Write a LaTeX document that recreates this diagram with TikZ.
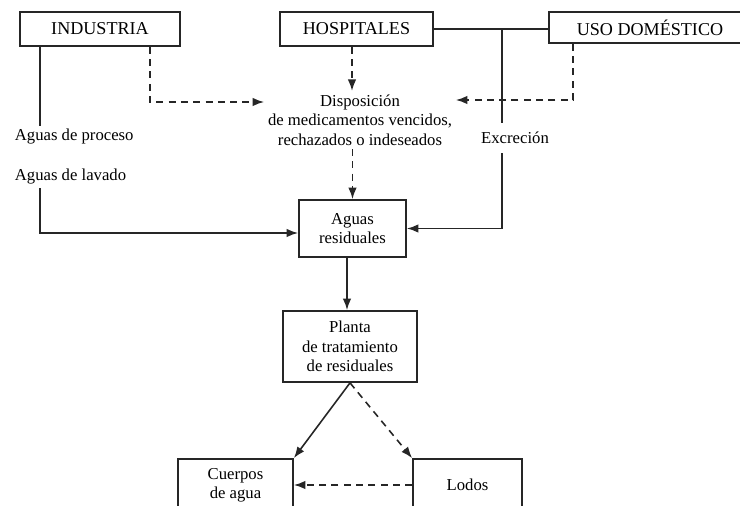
\documentclass[tikz,border=0pt]{standalone}
\usepackage{fontspec}
\setmainfont{Liberation Serif}
\usetikzlibrary{arrows.meta,calc}
\tikzset{
  caja/.style={draw=black!85,line width=1pt,inner sep=0pt,align=center},
  titulo/.style={font=\fontsize{10.3}{12}\selectfont},
  texto/.style={inner sep=2pt,align=center,font=\fontsize{9.5}{11}\selectfont},
  linea/.style={draw=black!85,line width=0.9pt},
  guion/.style={draw=black!85,line width=0.9pt,dash pattern=on 4pt off 3pt},
}
\begin{document}
\begin{tikzpicture}[x=0.02cm,y=-0.02cm,>={Latex[length=6.5pt,width=4.8pt]}]
		\useasboundingbox (0,0) rectangle (740,506);
		\clip (0,0) rectangle (740,506);

		\node[caja,titulo,minimum width=3.2cm,minimum height=0.68cm] (ind) at (100,29) {INDUSTRIA};
		\node[caja,titulo,minimum width=3.06cm,minimum height=0.68cm] (hosp) at (356.5,29) {HOSPITALES};
		\node[caja,titulo,minimum width=4.04cm,minimum height=0.62cm] (uso) at (650,27.5) {USO DOMÉSTICO};

		\node[texto,anchor=west] (proc) at (11,137) {Aguas de proceso};
		\node[texto,anchor=west] (lav) at (11,177) {Aguas de lavado};
		\node[texto] (disp) at (360,120) {Disposición\\de medicamentos vencidos,\\rechazados o indeseados};
		\node[texto,inner ysep=5pt] (exc) at (515,138) {Excreción};

		\node[caja,texto,inner sep=0pt,minimum width=2.14cm,minimum height=1.14cm] (aguas) at (352.5,228.5) {Aguas\\residuales};
		\node[caja,texto,inner sep=0pt,minimum width=2.68cm,minimum height=1.42cm] (planta) at (350,346.5) {Planta\\de tratamiento\\de residuales};
		\node[caja,texto,inner sep=0pt,minimum width=2.3cm,minimum height=1.04cm] (cuerpos) at (235.5,485) {Cuerpos\\de agua};
		\node[caja,texto,inner sep=0pt,minimum width=2.18cm,minimum height=1.04cm] (lodos) at (467.5,485) {Lodos};

		\coordinate (cA) at (40,0);
		\coordinate (cB) at (150,102);
		\coordinate (cD) at (352,0);
		\coordinate (cE) at (573,100);
		\coordinate (cF) at (502,0);
		\coordinate (cG) at (347,0);
		\coordinate (aguasL) at ($(aguas.west)+(0,4.5)$);

		\draw[linea] (ind.south -| cA) -- (proc.north -| cA);
		\draw[linea] (hosp.east) -- (hosp.east -| uso.west);
		\draw[linea] (cF |- hosp.east) -- (exc.north -| cF);
		\begin{scope}[->]
		    \draw[linea] (lav.south -| cA) -- (cA |- aguasL) -- (aguasL);
		    \draw[linea] (exc.south -| cF) -- (cF |- aguas.east) -- (aguas.east);
		    \draw[guion] (ind.south -| cB) -- (cB) -- (disp.west |- cB);
		    \draw[guion] (hosp.south -| cD) -- (disp.north -| cD);
		    \draw[guion] (uso.south -| cE) -- (cE) -- (disp.east |- cE);
		    \draw[guion] (disp.south -| aguas.north) -- (aguas.north);
		    \draw[linea] (aguas.south -| cG) -- (planta.north -| cG);
		    \draw[linea] (planta.south) -- (cuerpos.north east);
		    \draw[guion] (planta.south) -- (lodos.north west);
		    \draw[guion] (lodos.west) -- (cuerpos.east);
		\end{scope}
	    \end{tikzpicture}
\end{document}
